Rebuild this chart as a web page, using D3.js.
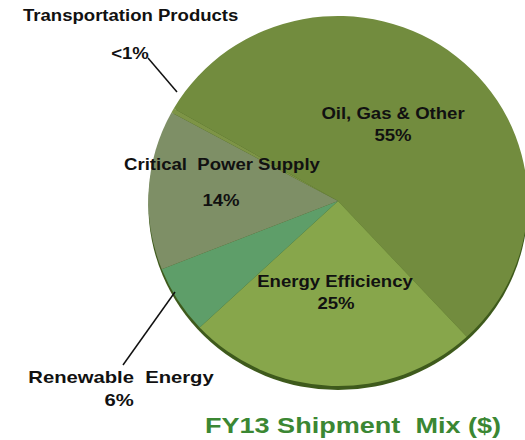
<!DOCTYPE html>
<html>
<head>
<meta charset="utf-8">
<script src="https://cdn.jsdelivr.net/npm/d3@7"></script>
<style>
  body { margin: 0; background: #fff; }
  svg { display: block; font-family: "Liberation Sans", Arial, sans-serif; font-weight: bold; }
</style>
</head>
<body>
<div id="chart"></div>
<script>
var width = 525,
    height = 440;

// slices, clockwise from the upper-left edge of "Oil, Gas & Other"
var segments = ["Oil, Gas & Other", "Energy Efficiency", "Renewable Energy", "Critical Power Supply", "Transportation Products"];
var shares = [55, 25, 6, 14, 0.4];
var shareLabels = ["55%", "25%", "6%", "14%", "<1%"];
var colors = ["#728c3e", "#87a64b", "#5e9e69", "#7e8f66", "#7d9446"];

var cx = 338, cy = 201, r = 185;

var svg = d3.select("#chart").append("svg")
    .attr("width", width)
    .attr("height", height);

var pie = d3.pie()
    .sort(null)
    .value(function(d) { return d; })
    .startAngle(-60 * Math.PI / 180)
    .endAngle(300 * Math.PI / 180);

var arc = d3.arc()
    .innerRadius(0)
    .outerRadius(r);

var g = svg.append("g")
    .attr("transform", "translate(" + cx + "," + cy + ") scale(1.025,1)");

// dark rim under the pie for the 3d look
g.append("ellipse")
    .attr("cx", 0)
    .attr("cy", 4)
    .attr("rx", r)
    .attr("ry", r)
    .style("fill", "#3e5a1c");

g.selectAll("path.slice")
    .data(pie(shares))
    .enter().append("path")
    .attr("class", "slice")
    .attr("d", arc)
    .style("fill", function(d, i) { return colors[i]; });

// labels (the source image is stretched a little sideways)
function label(txt, x, y, size, sx, anchor, fill) {
  svg.append("text")
      .attr("transform", "translate(" + x + "," + y + ") scale(" + sx + ",1)")
      .attr("text-anchor", anchor || "middle")
      .style("font-size", size + "px")
      .style("fill", fill || "#111")
      .style("white-space", "pre")
      .text(txt);
}

label(segments[4], 23, 21, 16, 1.16, "start");
label(shareLabels[4], 130, 59, 16, 1.16);
label(segments[0], 393, 119, 16, 1.16);
label(shareLabels[0], 393, 141, 16, 1.16);
label("Critical  Power Supply", 222, 170, 16, 1.16);
label(shareLabels[3], 221, 206, 16, 1.16);
label(segments[1], 335, 287, 16, 1.16);
label(shareLabels[1], 336, 309, 16, 1.16);
label("Renewable  Energy", 121, 383, 17, 1.19);
label(shareLabels[2], 119, 406, 17, 1.19);
label("FY13 Shipment  Mix ($)", 353, 433, 22, 1.23, "middle", "#3b8733");

// leader lines
svg.append("line")
    .attr("x1", 148).attr("y1", 58)
    .attr("x2", 177).attr("y2", 92)
    .style("stroke", "#111").style("stroke-width", 1.5);

svg.append("line")
    .attr("x1", 175).attr("y1", 292)
    .attr("x2", 123).attr("y2", 365)
    .style("stroke", "#111").style("stroke-width", 1.5);
</script>
</body>
</html>
